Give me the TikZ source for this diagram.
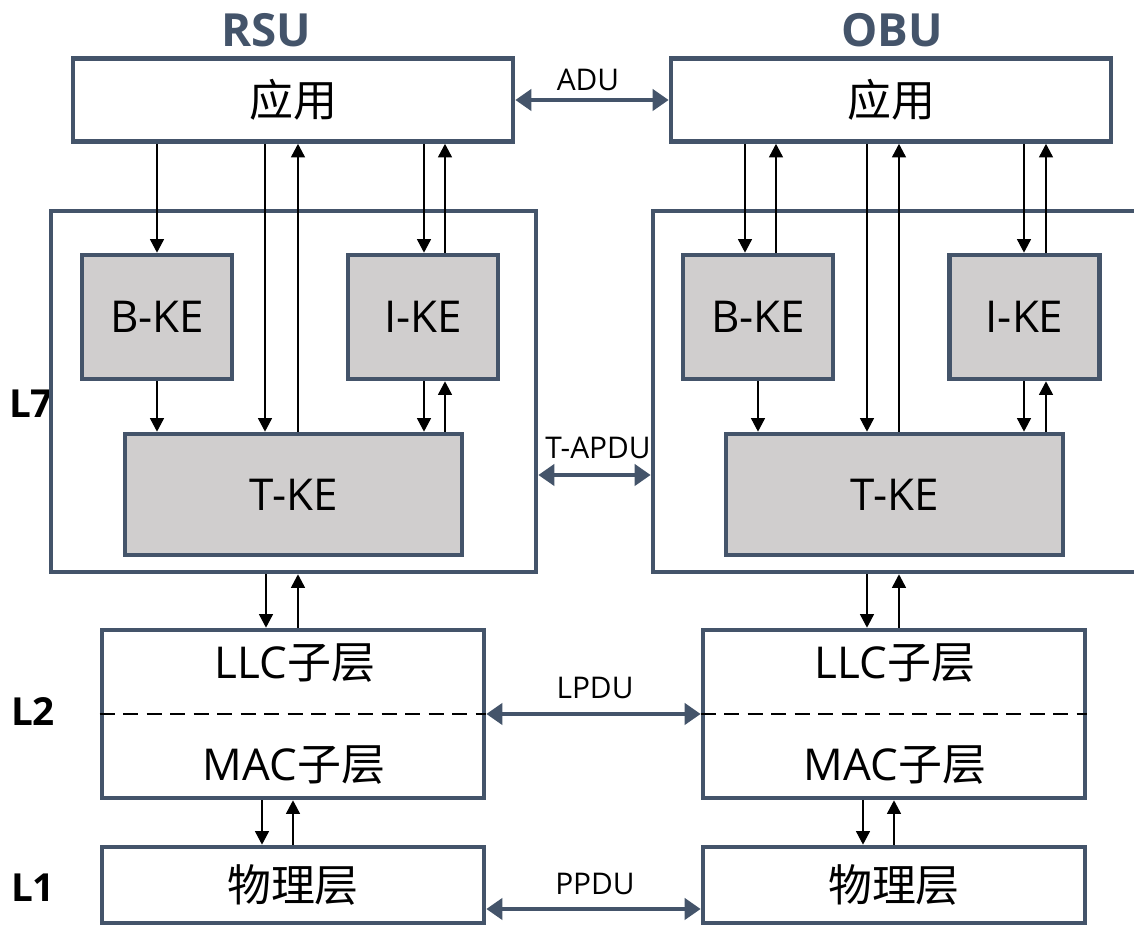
\documentclass[tikz,border=0pt]{standalone}
\usepackage{fontspec}
\setmainfont{Open Sans}
\newfontfamily\cjk{Noto Sans CJK SC}
\usetikzlibrary{arrows.meta}
\definecolor{slate}{HTML}{44546A}
\definecolor{kegrey}{HTML}{D0CECE}

\begin{document}
\begin{tikzpicture}[x=0.02cm, y=-0.02cm,
    layerbox/.style={draw=slate, line width=2.7pt, fill=white, inner sep=0pt},
    kebox/.style={layerbox, fill=kegrey},
    bigtext/.style={font=\fontsize{25}{30}\selectfont},
    pdulabel/.style={font=\fontsize{17}{20}\selectfont},
    layername/.style={font=\fontsize{22}{26}\selectfont\bfseries},
    titletext/.style={font=\fontsize{26}{30}\selectfont\bfseries, text=slate},
    flow/.style={-{Triangle[length=0.27cm, width=0.28cm]}, line width=0.7pt},
    pdu/.style={{Triangle[length=0.32cm, width=0.42cm]}-{Triangle[length=0.32cm, width=0.42cm]}, draw=slate, line width=2.4pt},
    sublayer/.style={dashed, dash pattern=on 0.3cm off 0.17cm, line width=1.4pt}]
    \useasboundingbox (0,0) rectangle (1134,928);

    % Titles
    \node[titletext] (rsutitle) at (266,30) {RSU};
    \node[titletext] (obutitle) at (892,30) {OBU};

    % Layer names
    \node[layername] (l7name) at (31,404) {L7};
    \node[layername] (l2name) at (33,712) {L2};
    \node[layername] (l1name) at (33,888) {L1};

    % RSU stack
    \node[layerbox, minimum width=8.8cm, minimum height=1.66cm, bigtext] (rsuapp) at (293,100) {\cjk 应用};
    \node[layerbox, minimum width=9.7cm, minimum height=7.22cm] (rsul7) at (293.5,391.5) {};
    \node[kebox, minimum width=3cm, minimum height=2.48cm, bigtext] (rsubke) at (157,317) {B-KE};
    \node[kebox, minimum width=3cm, minimum height=2.48cm, bigtext] (rsuike) at (423,317) {I-KE};
    \node[kebox, minimum width=6.74cm, minimum height=2.42cm, bigtext] (rsutke) at (293.5,494.5) {T-KE};
    \node[layerbox, minimum width=7.64cm, minimum height=3.36cm] (rsul2) at (293,714) {};
    \node[bigtext] (rsullc) at (295,663) {LLC{\cjk 子层}};
    \node[bigtext] (rsumac) at (294,765) {MAC{\cjk 子层}};
    \node[layerbox, minimum width=7.64cm, minimum height=1.52cm, bigtext] (rsuphy) at (293,885) {\cjk 物理层};
    \draw[sublayer] (rsul2.west) -- (rsul2.east);

    % OBU stack
    \node[layerbox, minimum width=8.8cm, minimum height=1.66cm, bigtext] (obuapp) at (891,100) {\cjk 应用};
    \node[layerbox, minimum width=9.7cm, minimum height=7.22cm] (obul7) at (895.5,391.5) {};
    \node[kebox, minimum width=3cm, minimum height=2.48cm, bigtext] (obubke) at (758,317) {B-KE};
    \node[kebox, minimum width=3cm, minimum height=2.48cm, bigtext] (obuike) at (1024.5,317) {I-KE};
    \node[kebox, minimum width=6.74cm, minimum height=2.42cm, bigtext] (obutke) at (894.5,494.5) {T-KE};
    \node[layerbox, minimum width=7.64cm, minimum height=3.36cm] (obul2) at (894,714) {};
    \node[bigtext] (obullc) at (895,663) {LLC{\cjk 子层}};
    \node[bigtext] (obumac) at (895,765) {MAC{\cjk 子层}};
    \node[layerbox, minimum width=7.64cm, minimum height=1.52cm, bigtext] (obuphy) at (894,885) {\cjk 物理层};
    \draw[sublayer] (obul2.west) -- (obul2.east);

    % RSU internal arrows
    \draw[flow] (157,0 |- rsuapp.south) -- (157,0 |- rsubke.north);
    \draw[flow] (265,0 |- rsuapp.south) -- (265,0 |- rsutke.north);
    \draw[flow] (298,0 |- rsutke.north) -- (298,0 |- rsuapp.south);
    \draw[flow] (424,0 |- rsuapp.south) -- (424,0 |- rsuike.north);
    \draw[flow] (445,0 |- rsuike.north) -- (445,0 |- rsuapp.south);
    \draw[flow] (rsubke.south) -- (rsubke.south |- rsutke.north);
    \draw[flow] (424,0 |- rsuike.south) -- (424,0 |- rsutke.north);
    \draw[flow] (445,0 |- rsutke.north) -- (445,0 |- rsuike.south);
    \draw[flow] (266,0 |- rsul7.south) -- (266,0 |- rsul2.north);
    \draw[flow] (298,0 |- rsul2.north) -- (298,0 |- rsul7.south);
    \draw[flow] (262,0 |- rsul2.south) -- (262,0 |- rsuphy.north);
    \draw[flow] (293,0 |- rsuphy.north) -- (293,0 |- rsul2.south);

    % OBU internal arrows
    \draw[flow] (745,0 |- obuapp.south) -- (745,0 |- obubke.north);
    \draw[flow] (776,0 |- obubke.north) -- (776,0 |- obuapp.south);
    \draw[flow] (867,0 |- obuapp.south) -- (867,0 |- obutke.north);
    \draw[flow] (899,0 |- obutke.north) -- (899,0 |- obuapp.south);
    \draw[flow] (1024,0 |- obuapp.south) -- (1024,0 |- obuike.north);
    \draw[flow] (1046,0 |- obuike.north) -- (1046,0 |- obuapp.south);
    \draw[flow] (obubke.south) -- (obubke.south |- obutke.north);
    \draw[flow] (1024,0 |- obuike.south) -- (1024,0 |- obutke.north);
    \draw[flow] (1046,0 |- obutke.north) -- (1046,0 |- obuike.south);
    \draw[flow] (867,0 |- obul7.south) -- (867,0 |- obul2.north);
    \draw[flow] (899,0 |- obul2.north) -- (899,0 |- obul7.south);
    \draw[flow] (863,0 |- obul2.south) -- (863,0 |- obuphy.north);
    \draw[flow] (894,0 |- obuphy.north) -- (894,0 |- obul2.south);

    % Peer PDUs
    \draw[pdu] (rsuapp.east) -- (obuapp.west);
    \node[pdulabel] (adu) at (588,80) {ADU};
    \draw[pdu] (rsul7.east |- 0,475) -- (obul7.west |- 0,475);
    \node[pdulabel] (tapdu) at (598,448) {T-APDU};
    \draw[pdu] (rsul2.east) -- (obul2.west);
    \node[pdulabel] (lpdu) at (595,688) {LPDU};
    \draw[pdu] (rsuphy.east |- 0,909) -- (obuphy.west |- 0,909);
    \node[pdulabel] (ppdu) at (595,884) {PPDU};
\end{tikzpicture}
\end{document}
